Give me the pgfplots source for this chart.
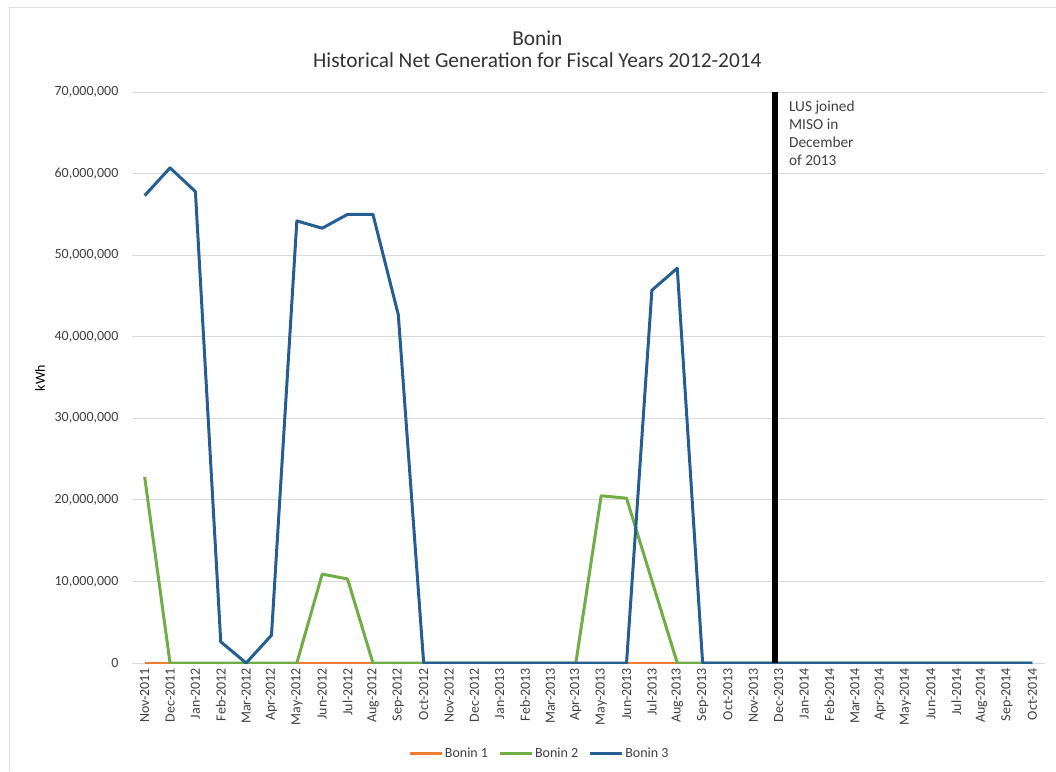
\documentclass[border=0pt]{standalone}
\usepackage{pgfplots}
\pgfplotsset{compat=1.18}
\usepackage{fontspec}
\setmainfont{Carlito}
\definecolor{cOrange}{HTML}{ED7D31}
\definecolor{cGreen}{HTML}{70AD47}
\definecolor{cBlue}{HTML}{255E91}
\definecolor{cGrid}{HTML}{D9D9D9}
\definecolor{cText}{HTML}{404040}
\definecolor{cTitle}{HTML}{333333}
\begin{document}
\begin{tikzpicture}[x=1pt,y=1pt]
\path[use as bounding box] (0,0) rectangle (792,578.25);
\draw[black!12, line width=0.75pt] (6.75,0) -- (6.75,572.25) -- (792,572.25);
\node[font=\fontsize{16}{19}\selectfont, text=cTitle] at (403,549.5) {Bonin};
\node[font=\fontsize{16}{19}\selectfont, text=cTitle] at (403,533) {Historical Net Generation for Fiscal Years 2012-2014};
\node[rotate=90, font=\fontsize{10.5}{12.6}\selectfont, text=black] at (30,294.75) {kWh};
\begin{axis}[
  at={(99pt,81pt)}, anchor=south west,
  scale only axis, width=684.75pt, height=428.25pt,
  xmin=-0.5, xmax=35.5, ymin=0, ymax=70000000,
  axis line style={draw=none},
  ymajorgrids, grid style={cGrid, line width=0.75pt},
  major tick length=0pt,
  ytick={0,10000000,20000000,30000000,40000000,50000000,60000000,70000000},
  scaled y ticks=false,
  /pgf/number format/assume math mode=true,
  yticklabel style={/pgf/number format/fixed, /pgf/number format/1000 sep={,},
     font=\fontsize{10.5}{12.6}\selectfont, text=cText, anchor=east, inner sep=0pt, xshift=-10pt},
  xtick={0,...,35},
  xticklabels={Nov-2011,Dec-2011,Jan-2012,Feb-2012,Mar-2012,Apr-2012,May-2012,Jun-2012,Jul-2012,Aug-2012,Sep-2012,Oct-2012,Nov-2012,Dec-2012,Jan-2013,Feb-2013,Mar-2013,Apr-2013,May-2013,Jun-2013,Jul-2013,Aug-2013,Sep-2013,Oct-2013,Nov-2013,Dec-2013,Jan-2014,Feb-2014,Mar-2014,Apr-2014,May-2014,Jun-2014,Jul-2014,Aug-2014,Sep-2014,Oct-2014},
  xticklabel style={rotate=90, anchor=east, inner sep=0pt, font=\fontsize{10.5}{12.6}\selectfont, text=cText},
  xticklabel shift=3.5pt,
  legend columns=3,
  legend style={draw=none, at={(0.446,-0.158)}, anchor=center,
     font=\fontsize{10.5}{12.6}\selectfont, text=cText,
     nodes={inner xsep=1pt, inner ysep=1pt},
     /tikz/every even column/.append style={column sep=7pt}},
  legend image code/.code={\draw[#1, line width=2.25pt] (0pt,0pt) -- (24pt,0pt);},
  every axis plot/.append style={line width=2.25pt, line join=round},
]
\addplot[cOrange, mark=none] coordinates {
(0,0)(1,0)(2,0)(3,0)(4,0)(5,0)(6,0)(7,0)(8,0)(9,0)(10,0)(11,0)(12,0)(13,0)(14,0)(15,0)(16,0)(17,0)(18,0)(19,0)(20,0)(21,0)(22,0)(23,0)(24,0)(25,0)(26,0)(27,0)(28,0)(29,0)(30,0)(31,0)(32,0)(33,0)(34,0)(35,0)};
\addlegendentry{Bonin 1}
\addplot[cGreen, mark=none] coordinates {
(0,22800000)(1,0)(2,0)(3,0)(4,0)(5,0)(6,0)(7,10900000)(8,10300000)(9,0)(10,0)(11,0)(12,0)(13,0)(14,0)(15,0)(16,0)(17,0)(18,20500000)(19,20200000)(20,10100000)(21,0)(22,0)(23,0)(24,0)(25,0)(26,0)(27,0)(28,0)(29,0)(30,0)(31,0)(32,0)(33,0)(34,0)(35,0)};
\addlegendentry{Bonin 2}
\addplot[cBlue, mark=none] coordinates {
(0,57300000)(1,60700000)(2,57800000)(3,2600000)(4,0)(5,3400000)(6,54200000)(7,53300000)(8,55000000)(9,55000000)(10,42700000)(11,0)(12,0)(13,0)(14,0)(15,0)(16,0)(17,0)(18,0)(19,0)(20,45700000)(21,48400000)(22,0)(23,0)(24,0)(25,0)(26,0)(27,0)(28,0)(29,0)(30,0)(31,0)(32,0)(33,0)(34,0)(35,0)};
\addlegendentry{Bonin 3}
\addplot[black, line width=4.5pt, mark=none, forget plot] coordinates {(24.85,0)(24.85,70000000)};
\node[anchor=north west, align=left, inner sep=0pt, font=\fontsize{11.5}{13.5}\selectfont, text=cText] at (axis cs:25.4,69000000) {LUS joined\\MISO in\\December\\of 2013};
\end{axis}
\end{tikzpicture}
\end{document}
